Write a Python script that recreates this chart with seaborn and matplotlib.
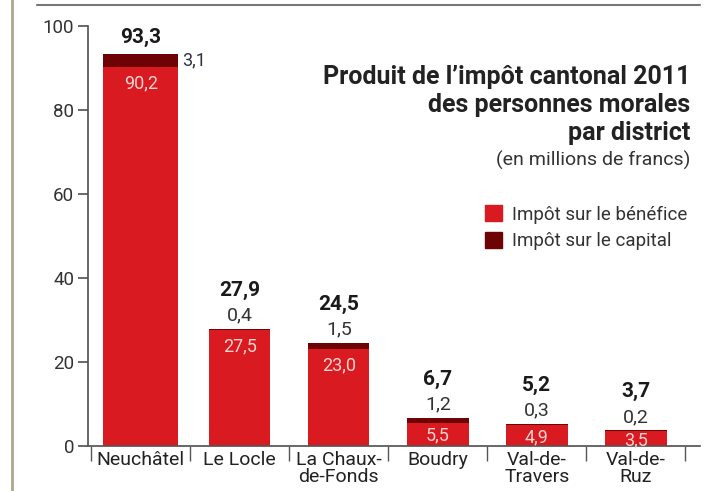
import numpy as np
import pandas as pd
import matplotlib
matplotlib.use("Agg")
import matplotlib.pyplot as plt
import seaborn as sns
from matplotlib.lines import Line2D

# données (en millions de francs)
districts = ["Neuchâtel", "Le Locle", "La Chaux-\nde-Fonds", "Boudry", "Val-de-\nTravers", "Val-de-\nRuz"]
benefice = [90.2, 27.5, 23.0, 5.5, 4.9, 3.5]
capital = [3.1, 0.4, 1.5, 1.2, 0.3, 0.2]
total = [93.3, 27.9, 24.5, 6.7, 5.2, 3.7]

red = "#da1a21"
darkred = "#6e0306"

sns.set_theme(style="white")
plt.rcParams["font.family"] = ["Roboto", "DejaVu Sans"]

df = pd.DataFrame({"district": districts, "benefice": benefice, "capital": capital, "total": total})

fig = plt.figure(figsize=(7.11, 4.91), dpi=100)
ax = fig.add_axes([0.124, 0.092, 0.861, 0.855])

sns.barplot(data=df, x="district", y="total", color=darkred, saturation=1, width=0.62, linewidth=0, ax=ax)
sns.barplot(data=df, x="district", y="benefice", color=red, saturation=1, width=0.62, linewidth=0, ax=ax)

# la barre de Neuchâtel est plus large
for cont in ax.containers:
    p = cont.patches[0]
    p.set_width(0.76)
    p.set_x(-0.38)

ax.set_ylim(0, 100)
ax.set_xlim(-0.53, 5.65)
ax.set_yticks(range(0, 101, 20))
ax.set_xlabel("")
ax.set_ylabel("")
for s in ["top", "right"]:
    ax.spines[s].set_visible(False)
ax.spines["left"].set_color("#555555")
ax.spines["bottom"].set_color("#555555")
ax.tick_params(axis="y", direction="out", length=7, color="#555555", labelsize=13.5, labelcolor="#333333", pad=3, left=True)
ax.tick_params(axis="x", length=0, labelsize=14, labelcolor="#222222", pad=4)
ax.set_xticks(np.arange(-0.5, 5.6, 1), minor=True)
ax.tick_params(axis="x", which="minor", direction="out", length=11, color="#555555", bottom=True)
for lab in ax.get_xticklabels():
    lab.set_linespacing(0.92)

# étiquettes
for i in range(len(districts)):
    ax.annotate(f"{total[i]:.1f}".replace(".", ","), (i, total[i]), xytext=(0, 21 if i else 5),
                textcoords="offset points", ha="center", va="bottom", fontsize=15, fontweight="bold", color="#1a1a1a")
    if i == 0:
        ax.annotate(f"{capital[i]:.1f}".replace(".", ","), (i + 0.38, total[i] - capital[i] / 2), xytext=(3, 0),
                    textcoords="offset points", ha="left", va="center", fontsize=13, color="#2e3140")
    else:
        ax.annotate(f"{capital[i]:.1f}".replace(".", ","), (i, total[i]), xytext=(0, 3),
                    textcoords="offset points", ha="center", va="bottom", fontsize=14, color="#333333")
    if benefice[i] > 10:
        ax.annotate(f"{benefice[i]:.1f}".replace(".", ","), (i, benefice[i]), xytext=(0, -5),
                    textcoords="offset points", ha="center", va="top", fontsize=13, color="#f8d3cf")
    else:
        ax.annotate(f"{benefice[i]:.1f}".replace(".", ","), (i, benefice[i] / 2), xytext=(0, -1),
                    textcoords="offset points", ha="center", va="center", fontsize=13, color="#f8d3cf")

# titre et légende
fig.text(0.971, 0.786, "Produit de l’impôt cantonal 2011\ndes personnes morales\npar district",
         ha="right", va="center", fontsize=18, fontweight="bold", color="#222222", linespacing=1.22)
fig.text(0.971, 0.674, "(en millions de francs)", ha="right", va="center", fontsize=14, color="#333333")

handles = [plt.Rectangle((0, 0), 1, 1, color=red), plt.Rectangle((0, 0), 1, 1, color=darkred)]
fig.legend(handles, ["Impôt sur le bénéfice", "Impôt sur le capital"], loc="upper left",
           bbox_to_anchor=(0.672, 0.597), frameon=False, fontsize=13.5, handlelength=0.9, handleheight=0.9,
           handletextpad=0.5, labelspacing=0.45, borderaxespad=0, labelcolor="#333333")

# cadre
fig.add_artist(Line2D([0.052, 0.985], [0.99, 0.99], color="#777777", lw=1.5))
fig.add_artist(Line2D([0.017, 0.017], [0, 1], color="#a9a98f", lw=2))

fig.savefig("out.png", dpi=100)
